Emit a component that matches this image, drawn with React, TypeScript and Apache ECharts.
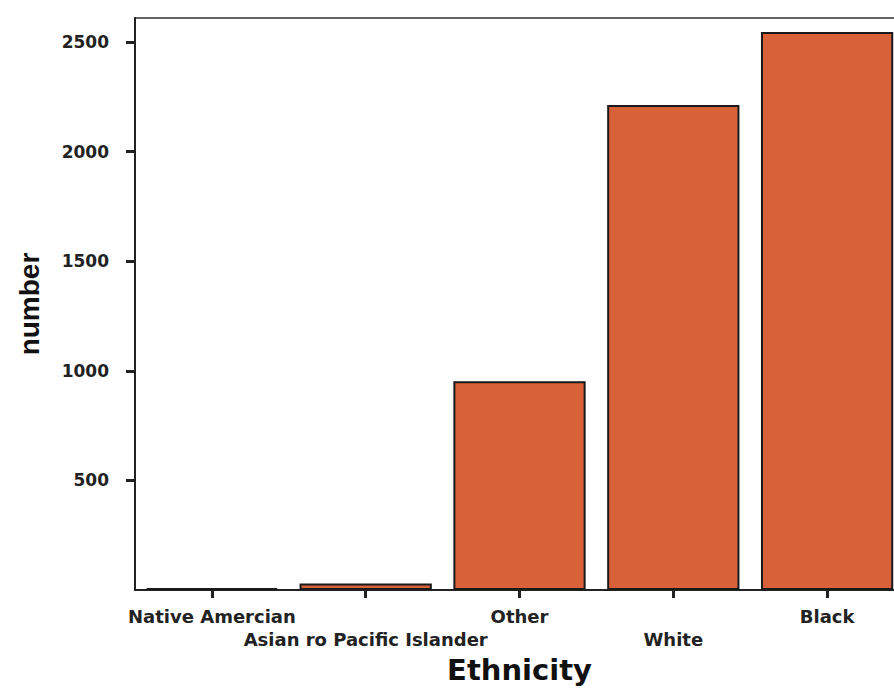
import React, { useEffect, useRef } from "react";
import * as echarts from "echarts";

const categories = [
  "Native Amercian",
  "Asian ro Pacific Islander",
  "Other",
  "White",
  "Black",
];
const counts = [8, 30, 952, 2213, 2546];
const yTicks = [500, 1000, 1500, 2000, 2500];

export default function App() {
  const ref = useRef<HTMLDivElement>(null);
  useEffect(() => {
    if (!ref.current) return;
    const chart = echarts.init(ref.current, null, { renderer: "svg" });
    chart.setOption({
      animation: false,
      backgroundColor: "#ffffff",
      grid: {
        left: 135,
        top: 18,
        width: 769,
        bottom: 98,
        show: true,
        borderColor: "#333",
        borderWidth: 1.5,
        containLabel: false,
        outerBoundsMode: "none",
      },
      xAxis: {
        type: "category",
        data: categories,
        name: "Ethnicity",
        nameLocation: "middle",
        nameGap: 65,
        nameTextStyle: {
          fontFamily: "DejaVu Sans",
          fontWeight: "bold",
          fontSize: 29,
          color: "#111",
        },
        axisLine: { show: true, lineStyle: { color: "#222", width: 2 } },
        axisTick: {
          show: true,
          alignWithLabel: true,
          length: 8,
          lineStyle: { color: "#222", width: 3 },
        },
        axisLabel: {
          interval: 0,
          margin: 15,
          fontFamily: "DejaVu Sans",
          fontWeight: "bold",
          fontSize: 18,
          lineHeight: 23,
          color: "#222",
          formatter: (v: string, i: number) => (i % 2 === 1 ? "\n" + v : v),
        },
      },
      yAxis: {
        type: "value",
        min: 0,
        max: 2610,
        interval: 500,
        name: "number",
        nameLocation: "middle",
        nameRotate: 90,
        nameGap: 92,
        nameTextStyle: {
          fontFamily: "Liberation Sans",
          fontWeight: "bold",
          fontSize: 28,
          color: "#111",
        },
        splitLine: { show: false },
        axisLine: { show: true, lineStyle: { color: "#222", width: 2 } },
        axisTick: {
          show: true,
          length: 9,
          customValues: yTicks,
          lineStyle: { color: "#222", width: 3 },
        },
        axisLabel: {
          customValues: yTicks,
          margin: 26,
          fontFamily: "DejaVu Sans",
          fontWeight: "bold",
          fontSize: 17,
          color: "#222",
          formatter: (v: number) => String(v),
        },
      },
      series: [
        {
          type: "bar",
          data: counts,
          barCategoryGap: "14%",
          itemStyle: {
            color: "#D9613A",
            borderColor: "#1a1a1a",
            borderWidth: 2,
          },
        },
      ],
    });
    return () => chart.dispose();
  }, []);
  return (
    <div
      style={{
        position: "fixed",
        left: 0,
        top: 0,
        width: 894,
        height: 688,
        overflow: "hidden",
      }}
    >
      <div ref={ref} style={{ width: 910, height: 688 }} />
    </div>
  );
}
